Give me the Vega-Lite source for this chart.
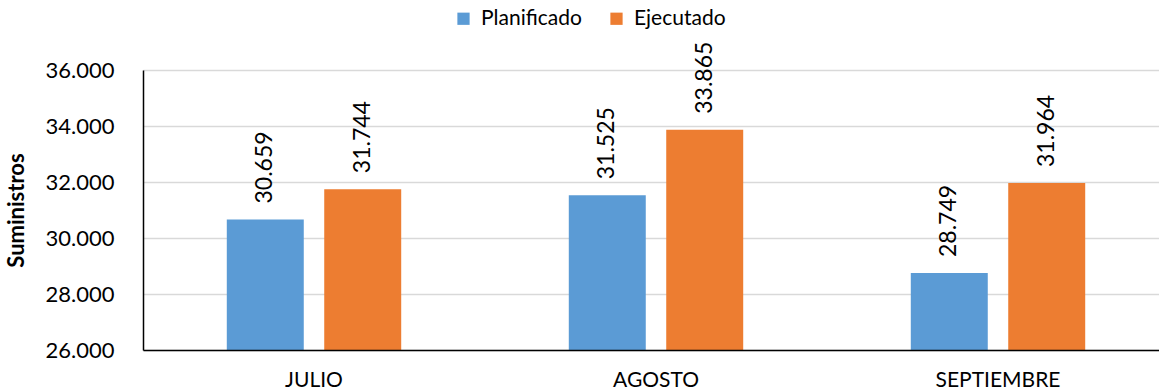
{
  "$schema": "https://vega.github.io/schema/vega-lite/v6.json",
  "width": 1026,
  "height": 280,
  "autosize": {"type": "none"},
  "padding": {"left": 143, "top": 70, "right": 0, "bottom": 42},
  "background": "white",
  "config": {
    "view": {"stroke": null},
    "font": "Lato",
    "locale": {"number": {"decimal": ",", "thousands": ".", "grouping": [3], "currency": ["", " €"]}},
    "axis": {"labelFont": "Lato", "titleFont": "Lato"}
  },
  "data": {
    "values": [
      {"mes": "JULIO", "serie": "Planificado", "valor": 30659},
      {"mes": "JULIO", "serie": "Ejecutado", "valor": 31744},
      {"mes": "AGOSTO", "serie": "Planificado", "valor": 31525},
      {"mes": "AGOSTO", "serie": "Ejecutado", "valor": 33865},
      {"mes": "SEPTIEMBRE", "serie": "Planificado", "valor": 28749},
      {"mes": "SEPTIEMBRE", "serie": "Ejecutado", "valor": 31964}
    ]
  },
  "encoding": {
    "x": {
      "field": "mes", "type": "nominal", "sort": ["JULIO", "AGOSTO", "SEPTIEMBRE"],
      "scale": {"paddingInner": 0.49, "paddingOuter": 0.245},
      "axis": {"title": null, "labelAngle": 0, "labelFontSize": 21, "labelColor": "#000000", "labelPadding": 19, "ticks": false, "domainColor": "#000000", "domainWidth": 1.5, "grid": false, "zindex": 1}
    },
    "xOffset": {"field": "serie", "type": "nominal", "sort": ["Planificado", "Ejecutado"], "scale": {"paddingInner": 0.21, "paddingOuter": 0}},
    "y": {
      "field": "valor", "type": "quantitative",
      "scale": {"domain": [26000, 36000], "zero": false, "nice": false},
      "axis": {"title": "Suministros", "titleFontSize": 22, "titleFontWeight": "bold", "titleColor": "#000000", "titlePadding": 17,
        "values": [26000, 28000, 30000, 32000, 34000, 36000], "format": ",.0f",
        "labelFontSize": 22, "labelColor": "#000000", "labelPadding": 29, "ticks": false,
        "domainColor": "#000000", "domainWidth": 1.5, "grid": true, "gridColor": "#D9D9D9", "gridWidth": 1.5}
    },
    "color": {
      "field": "serie", "type": "nominal", "sort": ["Planificado", "Ejecutado"],
      "scale": {"domain": ["Planificado", "Ejecutado"], "range": ["#5B9BD5", "#ED7D31"]},
      "legend": {"title": null, "orient": "none", "legendX": 310, "legendY": -62, "direction": "horizontal",
        "symbolType": "square", "symbolSize": 150, "symbolStrokeWidth": 0, "symbolOpacity": 1, "labelFontSize": 21, "labelColor": "#000000", "labelOffset": 7, "columnPadding": 24}
    }
  },
  "layer": [
    {"mark": {"type": "bar", "opacity": 1}, "encoding": {"y2": {"datum": 26000}}},
    {
      "mark": {"type": "text", "angle": -90, "align": "left", "baseline": "middle", "dx": 16, "fontSize": 23, "color": "#000000"},
      "encoding": {
        "text": {"field": "valor", "type": "quantitative", "format": ",.0f"},
        "color": {"value": "#000000"}
      }
    }
  ]
}
